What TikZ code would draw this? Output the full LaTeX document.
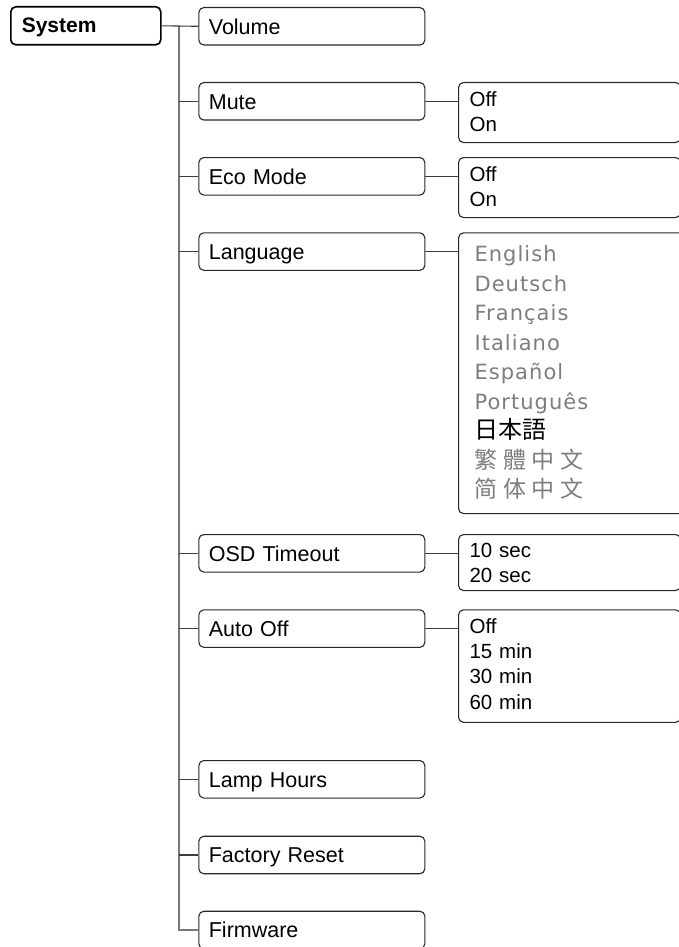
\documentclass[tikz,border=0pt]{standalone}
\usepackage{fontspec}
\setmainfont{Liberation Sans}
\newfontfamily\langfont[LetterSpace=5]{DejaVu Sans}
\newfontfamily\jpfont{Noto Sans CJK JP}
\newfontfamily\tcfont[LetterSpace=24]{Noto Sans CJK TC}
\newfontfamily\scfont[LetterSpace=24]{Noto Sans CJK SC}
\definecolor{boxcol}{RGB}{40,40,40}
\definecolor{conncol}{RGB}{60,60,60}
\definecolor{trunkcol}{RGB}{120,120,120}
\definecolor{langgray}{RGB}{125,125,125}
\tikzset{
  menubox/.style={draw=boxcol, line width=1.1pt, rounded corners=5pt, anchor=north west,
    text width=206pt, inner xsep=10pt, inner ysep=0pt, text height=26.5pt, text depth=11pt,
    align=left, font=\fontsize{21.5}{25.3}\selectfont},
  subbox/.style={draw=boxcol, line width=1.1pt, rounded corners=5pt, anchor=north west,
    text width=200pt, inner xsep=11pt, inner ysep=0pt, align=left,
    font=\fontsize{20.5}{25.3}\selectfont},
  sysbox/.style={draw=black, line width=1.6pt, rounded corners=5pt, anchor=north west,
    text width=128pt, inner xsep=11pt, inner ysep=0pt, text height=26pt, text depth=12pt,
    align=left, font=\bfseries\fontsize{21}{25}\selectfont},
  branch/.style={draw=conncol, line width=1.1pt},
  trunkline/.style={draw=trunkcol, line width=1.8pt},
}
\begin{document}
\begin{tikzpicture}[x=1pt, y=-1pt]
\useasboundingbox (0,0) rectangle (679,947);
% root
\node[sysbox] (sys) at (10,6) {System};
% main menu boxes
\node[menubox] (vol) at (198.3,7) {Volume};
\node[menubox] (mute) at (198.3,82) {Mute};
\node[menubox] (eco) at (198.3,157) {Eco Mode};
\node[menubox] (lang) at (198.3,232.3) {Language};
\node[menubox] (osd) at (198.3,534) {OSD Timeout};
\node[menubox] (auto) at (198.3,609.3) {Auto Off};
\node[menubox] (lamp) at (198.3,760) {Lamp Hours};
\node[menubox] (fact) at (198.3,835.7) {Factory Reset};
\node[menubox] (fw) at (198.3,910.7) {Firmware};
% option boxes
\node[subbox, text height=23.5pt, text depth=36.5pt] (muteS) at (458,82) {Off\\On};
\node[subbox, text height=23.5pt, text depth=36.5pt] (ecoS) at (458,157) {Off\\On};
\node[subbox, text height=28.7pt, text depth=252pt, inner xsep=16pt, text=langgray,
      font=\langfont\fontsize{21}{29.5}\selectfont] (langS) at (458,232.3)
  {English\\Deutsch\\Français\\Italiano\\Español\\Português\\{\jpfont\fontsize{24}{29.5}\selectfont\color{black}日本語}\\{\tcfont\fontsize{23}{29.5}\selectfont 繁體中文}\\{\scfont\fontsize{23}{29.5}\selectfont 简体中文}};
\node[subbox, text height=23pt, text depth=33pt] (osdS) at (458,534) {10 sec\\20 sec};
\node[subbox, text height=23.5pt, text depth=89pt] (autoS) at (458,609.3) {Off\\15 min\\30 min\\60 min};
% trunk
\coordinate (tr) at (179.3,0);
\draw[trunkline] (sys.east -| tr) |- (fw.west);
% branches
\draw[branch] (sys.east) -- (vol.west);
\foreach \m in {mute,eco,lang,osd,auto,lamp,fact}
  \draw[branch] (\m.west -| tr) -- (\m.west);
% option connectors
\draw[branch] (mute.east) -- (mute.east -| muteS.west);
\draw[branch] (eco.east) -- (eco.east -| ecoS.west);
\draw[branch] (lang.east) -- (lang.east -| langS.west);
\draw[branch] (osd.east) -- (osd.east -| osdS.west);
\draw[branch] (auto.east) -- (auto.east -| autoS.west);
\end{tikzpicture}
\end{document}
